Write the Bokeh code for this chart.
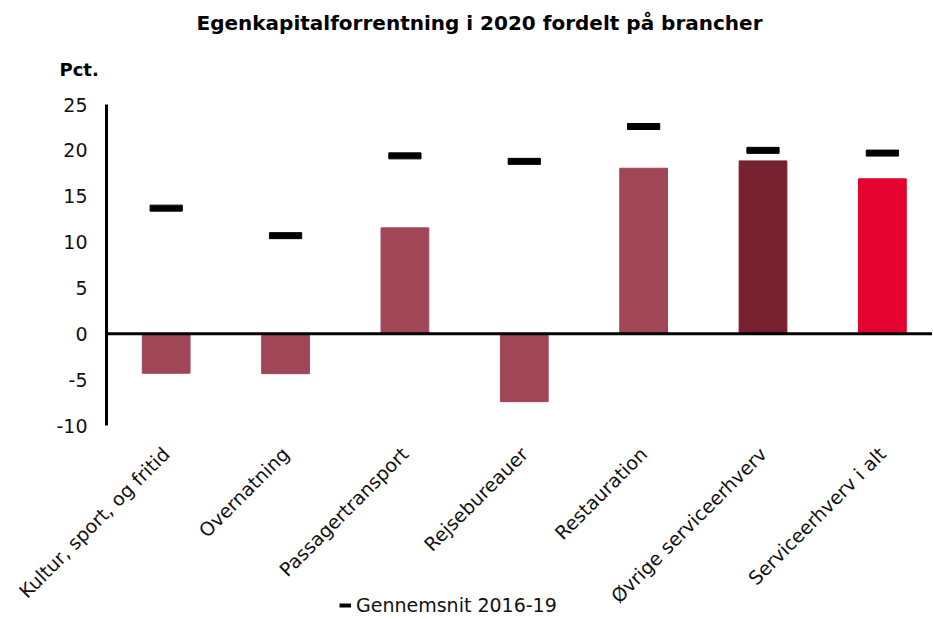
from bokeh.plotting import figure
from bokeh.layouts import column
from bokeh.models import (ColumnDataSource, Range1d, FixedTicker, Span,
                          Legend, LegendItem, Title)
from bokeh.embed import file_html
from bokeh.resources import INLINE
from math import pi, nan

categories = ["Kultur, sport, og fritid", "Overnatning", "Passagertransport",
              "Rejsebureauer", "Restauration", "Øvrige serviceerhverv",
              "Serviceerhverv i alt"]
roe_2020 = [-4.3, -4.35, 11.55, -7.4, 18.05, 18.85, 16.9]
avg_2016_19 = [13.7, 10.7, 19.4, 18.8, 22.6, 20.0, 19.7]
bar_colors = ["#A04657", "#A04657", "#A04657", "#A04657", "#A04657",
              "#77202F", "#E4032E"]
y_ticks = [-10, -5, 0, 5, 10, 15, 20, 25]
y_min, y_max = -10, 25
legend_label = "Gennemsnit 2016-19"

FONT = "DejaVu Sans"
xs = list(range(len(categories)))

src = ColumnDataSource(dict(x=xs, roe=roe_2020, avg=avg_2016_19,
                            color=bar_colors))

p = figure(width=932, height=619, output_backend="svg", toolbar_location=None,
           title=None,
           x_range=Range1d(-0.5, 6.42), y_range=Range1d(y_min, y_max),
           min_border_left=106, min_border_right=0, min_border_top=60,
           min_border_bottom=194)
p.outline_line_color = None
p.grid.visible = False
p.background_fill_color = "white"

p.vbar(x="x", top="roe", bottom=0, width=0.4, color="color", source=src)
p.rect(x="x", y="avg", width=0.27, height=6, height_units="screen",
       color="black", source=src)

p.add_layout(Span(location=0, dimension="width", line_color="black",
                  line_width=3))

# y axis
ya = p.yaxis[0]
ya.ticker = FixedTicker(ticks=y_ticks)
ya.major_label_overrides = {t: str(t) for t in y_ticks}
ya.axis_line_width = 3
ya.axis_line_color = "black"
ya.major_tick_line_color = None
ya.minor_tick_line_color = None
ya.major_label_text_font = FONT
ya.major_label_text_font_size = "19px"
ya.major_label_text_color = "#111111"
ya.major_label_standoff = 13

# x axis
xa = p.xaxis[0]
xa.ticker = FixedTicker(ticks=xs)
xa.major_label_overrides = {i: c for i, c in enumerate(categories)}
xa.axis_line_color = None
xa.major_tick_line_color = None
xa.minor_tick_line_color = None
xa.major_label_orientation = pi / 4
xa.major_label_text_font = FONT
xa.major_label_text_font_size = "19px"
xa.major_label_text_color = "#111111"
xa.major_label_standoff = 19

# titles (first added is nearest to the frame); a blank spacer keeps the
# unit label clear of the value axis
p.add_layout(Title(text=" ", text_font=FONT, text_font_size="1px",
                   standoff=8), "above")
p.add_layout(Title(text="Pct.", text_font=FONT, text_font_size="18px",
                   text_font_style="bold", align="left", offset=-47,
                   standoff=28, text_color="black"), "above")
p.add_layout(Title(text="Egenkapitalforrentning i 2020 fordelt på brancher",
                   text_font=FONT, text_font_size="20px",
                   text_font_style="bold", align="left", offset=90,
                   standoff=16, text_color="black"), "above")

# legend strip laid over the bottom of the chart
lf = figure(width=932, height=24, output_backend="svg", toolbar_location=None,
            title=None, x_axis_location=None, y_axis_location=None,
            x_range=Range1d(0, 1), y_range=Range1d(0, 1),
            min_border=0, margin=(-24, 0, 0, 0))
lf.outline_line_color = None
lf.grid.visible = False
lf.background_fill_alpha = 0
lf.border_fill_alpha = 0
key = lf.line(x=[nan], y=[nan], line_color="black", line_width=4)
legend = Legend(items=[LegendItem(label=legend_label, renderers=[key])],
                location=(233, 3), orientation="horizontal",
                glyph_width=12, glyph_height=20, label_standoff=5,
                label_text_font=FONT, label_text_font_size="19px",
                label_text_color="#111111", border_line_color=None,
                background_fill_alpha=0, padding=0, margin=0)
lf.add_layout(legend, "center")

layout = column(p, lf, spacing=0)
open("out.html", "w").write(file_html(layout, INLINE))
